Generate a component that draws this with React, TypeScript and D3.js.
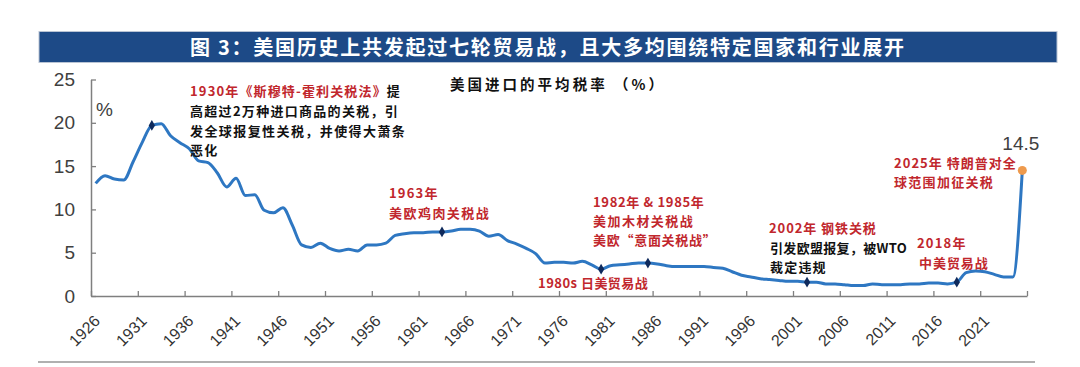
import React, { useEffect, useRef } from "react";
import * as d3 from "d3";

// 美国进口平均税率（%），1926-2025 年
const years = d3.range(1926, 2026);
const tariff = [
  13.0, 13.9, 13.5, 13.4, 15.5, 17.8, 19.7, 19.9, 18.5, 17.7,
  17.0, 15.6, 15.4, 14.2, 12.6, 13.6, 11.6, 11.7, 9.9, 9.6,
  10.2, 8.2, 5.9, 5.6, 6.1, 5.5, 5.2, 5.4, 5.2, 5.9,
  5.9, 6.1, 7.0, 7.2, 7.3, 7.3, 7.4, 7.4, 7.5, 7.7,
  7.7, 7.5, 6.9, 7.1, 6.4, 6.0, 5.5, 4.9, 3.8, 3.9,
  3.9, 3.8, 4.0, 3.6, 3.1, 3.5, 3.6, 3.7, 3.8, 3.8,
  3.7, 3.5, 3.4, 3.4, 3.4, 3.4, 3.3, 3.2, 2.8, 2.4,
  2.2, 2.0, 1.9, 1.8, 1.7, 1.7, 1.6, 1.6, 1.4, 1.4,
  1.3, 1.2, 1.2, 1.4, 1.3, 1.3, 1.3, 1.4, 1.4, 1.5,
  1.5, 1.4, 1.6, 2.7, 2.9, 2.8, 2.5, 2.2, 2.2, 14.5,
];
const markerYears = [1932, 1963, 1980, 1985, 2002, 2018];
const lastYear = 2025;
const xTicks = [1926, 1931, 1936, 1941, 1946, 1951, 1956, 1961, 1966, 1971, 1976, 1981, 1986, 1991, 1996, 2001, 2006, 2011, 2016, 2021];
const yTicks = [0, 5, 10, 15, 20, 25];

const title = "图 3：美国历史上共发起过七轮贸易战，且大多均围绕特定国家和行业展开";
const subtitle = "美国进口的平均税率 （%）";

const RED = "#c1272d";
const CJK = "'Noto Sans CJK SC', sans-serif";
const NUM = "'Liberation Sans', Arial, sans-serif";

const W = 1080;
const H = 367;

export default function App() {
  const ref = useRef<SVGSVGElement>(null);

  useEffect(() => {
    const svg = d3.select(ref.current);
    svg.selectAll("*").remove();

    const x = d3.scaleLinear().domain([1926, 2026]).range([91, 1027]);
    const y = d3.scaleLinear().domain([0, 25]).range([296, 79.5]);
    const px = (yr: number) => x(yr + 0.5);
    const val = (yr: number) => tariff[years.indexOf(yr)];

    // title bar
    svg.append("rect").attr("x", 39).attr("y", 31.5).attr("width", 1018).attr("height", 31)
      .attr("fill", "#1d4a87").attr("stroke", "#b9c4d4").attr("stroke-width", 1);
    svg.append("text").attr("x", 190).attr("y", 55).attr("textLength", 714).attr("lengthAdjust", "spacing")
      .attr("fill", "#fff").attr("font-family", CJK).attr("font-weight", 700).attr("font-size", 20)
      .text(title);

    svg.append("text").attr("x", 450).attr("y", 90).attr("font-family", CJK).attr("font-weight", 700)
      .attr("font-size", 14.5).attr("fill", "#111").attr("textLength", 213).attr("lengthAdjust", "spacing")
      .text(subtitle);

    // axes
    const xAxis = d3.axisBottom(x).tickValues([...xTicks, 2026]).tickSizeInner(-5).tickSizeOuter(0).tickFormat(() => "");
    const gx = svg.append("g").attr("transform", `translate(0,${y(0)})`).call(xAxis);
    const yAxis = d3.axisLeft(y).tickValues(yTicks).tickSizeInner(-5).tickSizeOuter(0).tickPadding(16);
    const gy = svg.append("g").attr("transform", `translate(${x(1926)},0)`).call(yAxis);
    [gx, gy].forEach(g => {
      g.select(".domain").attr("stroke", "#7f7f7f").attr("stroke-width", 1.5);
      g.selectAll(".tick line").attr("stroke", "#7f7f7f").attr("stroke-width", 1.3);
    });
    gy.selectAll(".tick text").attr("font-family", NUM).attr("font-size", 19).attr("fill", "#404040");

    svg.append("g").selectAll("text").data(xTicks).join("text")
      .attr("transform", d => `translate(${x(d) + 10},322) rotate(-45)`)
      .attr("text-anchor", "end").attr("font-family", NUM).attr("font-size", 16).attr("fill", "#333")
      .text(d => d);

    svg.append("text").attr("x", 96).attr("y", 116).attr("font-family", NUM).attr("font-size", 19)
      .attr("fill", "#404040").text("%");

    // line
    const line = d3.line<number>().x(d => px(d)).y(d => y(val(d))).curve(d3.curveMonotoneX);
    svg.append("path").datum(years).attr("d", line).attr("fill", "none")
      .attr("stroke", "#2e77c2").attr("stroke-width", 3).attr("stroke-linejoin", "round");

    svg.append("g").selectAll("path").data(markerYears).join("path")
      .attr("d", d3.symbol(d3.symbolDiamond, 34))
      .attr("transform", d => `translate(${px(d)},${y(val(d))})`)
      .attr("fill", "#0f2a5c");

    svg.append("circle").attr("cx", px(lastYear)).attr("cy", y(val(lastYear))).attr("r", 4.5).attr("fill", "#ee9a4d");
    svg.append("text").attr("x", px(lastYear) - 20).attr("y", y(val(lastYear)) - 20)
      .attr("font-family", NUM).attr("font-size", 19).attr("fill", "#404040").text(val(lastYear).toFixed(1));

    // annotations
    const note = (xx: number, yy: number, parts: [string, string][], len?: number) => {
      const t = svg.append("text").attr("x", xx).attr("y", yy).attr("font-family", CJK)
        .attr("font-weight", 700).attr("font-size", 13).attr("letter-spacing", 1.2);
      if (len) t.attr("textLength", len).attr("lengthAdjust", "spacing");
      parts.forEach(([s, c]) => t.append("tspan").attr("fill", c).text(s));
    };
    note(190, 96, [["1930年《斯穆特-霍利关税法》", RED], ["提", "#111"]], 211);
    note(190, 116, [["高超过2万种进口商品的关税，引", "#111"]], 209);
    note(190, 136, [["发全球报复性关税，并使得大萧条", "#111"]], 216);
    note(190, 155, [["恶化", "#111"]]);

    note(389, 198, [["1963年", RED]]);
    note(389, 218, [["美欧鸡肉关税战", RED]], 101);

    note(593, 207, [["1982年 & 1985年", RED]], 112);
    note(593, 226, [["美加木材关税战", RED]], 101);
    note(593, 245, [["美欧“意面关税战”", RED]], 124);

    note(538, 288, [["1980s 日美贸易战", RED]], 111);

    note(769, 233, [["2002年 钢铁关税", RED]], 108);
    note(770, 253, [["引发欧盟报复，被WTO", "#111"]], 138);
    note(770, 272, [["裁定违规", "#111"]]);

    note(917, 248, [["2018年", RED]]);
    note(919, 268, [["中美贸易战", RED]], 70);

    note(894, 168, [["2025年 特朗普对全", RED]], 123);
    note(894, 187, [["球范围加征关税", RED]], 100);

    // bottom rule
    svg.append("line").attr("x1", 38).attr("x2", 1035).attr("y1", 362).attr("y2", 362)
      .attr("stroke", "#b0b0b0").attr("stroke-width", 2);
  }, []);

  return (
    <svg ref={ref} width={W} height={H}
      style={{ position: "absolute", left: 0, top: 0, background: "#fff", display: "block" }} />
  );
}
